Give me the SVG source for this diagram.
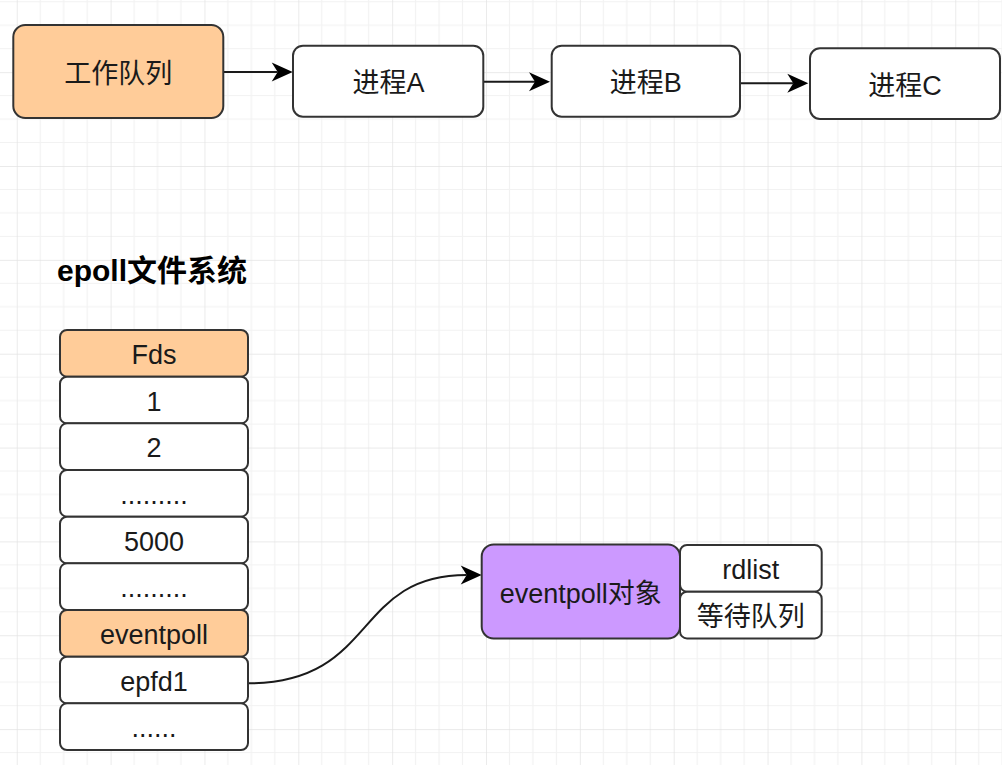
<svg xmlns="http://www.w3.org/2000/svg" width="1002" height="765" viewBox="0 0 1002 765">
<style>
  .box { stroke: #333333; stroke-width: 2; }
  .orange { fill: #FFCC99; }
  .white { fill: #FFFFFF; }
  .purple { fill: #CC99FF; }
  .t { font-family: "Liberation Sans", "Noto Sans CJK SC", sans-serif; font-size: 27px; fill: #1a1a1a; text-anchor: middle; }
  .title { font-family: "Liberation Sans", "Noto Sans CJK SC", sans-serif; font-size: 30px; font-weight: bold; fill: #000000; }
  .conn { fill: none; stroke: #1a1a1a; stroke-width: 2; }
</style>
<defs>
  <pattern id="grid" patternUnits="userSpaceOnUse" x="16.75" y="72.15" width="93.85" height="93.85">
    <g stroke="#f2f2f2" stroke-width="1.2">
      <line x1="23.46" y1="0" x2="23.46" y2="93.85"/>
      <line x1="46.92" y1="0" x2="46.92" y2="93.85"/>
      <line x1="70.39" y1="0" x2="70.39" y2="93.85"/>
      <line x1="0" y1="23.46" x2="93.85" y2="23.46"/>
      <line x1="0" y1="46.92" x2="93.85" y2="46.92"/>
      <line x1="0" y1="70.39" x2="93.85" y2="70.39"/>
    </g>
    <g stroke="#e3e3e3" stroke-width="1.4">
      <line x1="0" y1="0" x2="0" y2="93.85"/>
      <line x1="0" y1="0" x2="93.85" y2="0"/>
    </g>
  </pattern>
  <marker id="arr" markerUnits="userSpaceOnUse" markerWidth="24" markerHeight="24" viewBox="-8 -12 24 24" refX="0" refY="0" orient="auto">
    <path d="M15,0 L-6,-9.5 L0,0 L-6,9.5 Z" fill="#000000"/>
  </marker>
</defs>
<rect x="0" y="0" width="1002" height="765" fill="#ffffff"/>
<rect x="0" y="0" width="1002" height="765" fill="url(#grid)"/>

<g id="connectors">
  <path class="conn" d="M223.3,72 L277.7,72" marker-end="url(#arr)"/>
  <path class="conn" d="M483.3,81.7 L535,81.7" marker-end="url(#arr)"/>
  <path class="conn" d="M740,83.3 L793.3,83.3" marker-end="url(#arr)"/>
  <path class="conn" d="M248,683.3 C378,683.3 352,575 466.7,575" marker-end="url(#arr)"/>
</g>

<g id="work-queue">
  <rect class="box orange" x="13.3" y="25" width="210" height="93" rx="12"/>
  <text class="t" x="118.3" y="82.5">工作队列</text>
</g>
<g id="process-a">
  <rect class="box white" x="293" y="45.7" width="190.3" height="71" rx="10"/>
  <text class="t" x="388.5" y="92">进程A</text>
</g>
<g id="process-b">
  <rect class="box white" x="551.7" y="45.7" width="188.3" height="71" rx="10"/>
  <text class="t" x="645.8" y="92">进程B</text>
</g>
<g id="process-c">
  <rect class="box white" x="810" y="48.3" width="190" height="70.7" rx="10"/>
  <text class="t" x="905" y="94.5">进程C</text>
</g>

<g id="title">
  <text class="title" x="57" y="281">epoll文件系统</text>
</g>

<g id="fds-header">
  <rect class="box orange" x="60" y="330" width="188" height="46.7" rx="7"/>
  <text class="t" x="154" y="363.8">Fds</text>
</g>
<g id="fd-1">
  <rect class="box white" x="60" y="376.7" width="188" height="46.7" rx="7"/>
  <text class="t" x="154" y="410.5">1</text>
</g>
<g id="fd-2">
  <rect class="box white" x="60" y="423.3" width="188" height="46.7" rx="7"/>
  <text class="t" x="154" y="457.2">2</text>
</g>
<g id="fd-dots-1">
  <rect class="box white" x="60" y="470" width="188" height="46.7" rx="7"/>
  <text class="t" x="154" y="503.8">.........</text>
</g>
<g id="fd-5000">
  <rect class="box white" x="60" y="516.7" width="188" height="46.7" rx="7"/>
  <text class="t" x="154" y="550.5">5000</text>
</g>
<g id="fd-dots-2">
  <rect class="box white" x="60" y="563.3" width="188" height="46.7" rx="7"/>
  <text class="t" x="154" y="597.2">.........</text>
</g>
<g id="fd-eventpoll">
  <rect class="box orange" x="60" y="610" width="188" height="46.7" rx="7"/>
  <text class="t" x="154" y="643.8">eventpoll</text>
</g>
<g id="fd-epfd1">
  <rect class="box white" x="60" y="656.7" width="188" height="46.7" rx="7"/>
  <text class="t" x="154" y="690.5">epfd1</text>
</g>
<g id="fd-dots-3">
  <rect class="box white" x="60" y="703.3" width="188" height="46.7" rx="7"/>
  <text class="t" x="154" y="737.2">......</text>
</g>

<g id="eventpoll-object">
  <rect class="box purple" x="481.7" y="544.5" width="198.3" height="94" rx="12"/>
  <text class="t" x="580.8" y="602.5">eventpoll对象</text>
</g>
<g id="rdlist">
  <rect class="box white" x="680" y="545" width="141.7" height="46.7" rx="7"/>
  <text class="t" x="750.8" y="579">rdlist</text>
</g>
<g id="wait-queue">
  <rect class="box white" x="680" y="591.7" width="141.7" height="46.7" rx="7"/>
  <text class="t" x="750.8" y="625.5">等待队列</text>
</g>
</svg>
